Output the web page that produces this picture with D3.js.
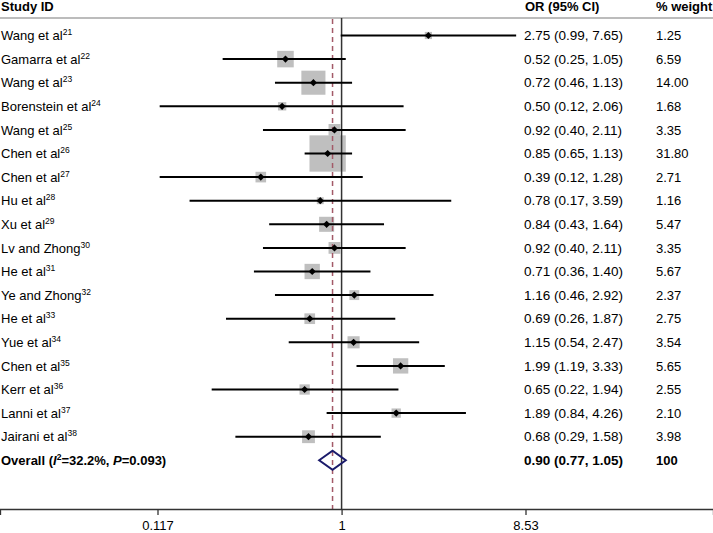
<!DOCTYPE html>
<html><head><meta charset="utf-8">
<script src="https://cdn.jsdelivr.net/npm/d3@7"></script>
<style>
html,body{margin:0;padding:0;background:#fff;}
svg{display:block;font-family:"Liberation Sans",Arial,sans-serif;}
</style></head><body>
<svg id="chart" width="713" height="533"></svg>
<script>
const studies = ["Wang et al","Gamarra et al","Wang et al","Borenstein et al","Wang et al","Chen et al","Chen et al","Hu et al","Xu et al","Lv and Zhong","He et al","Ye and Zhong","He et al","Yue et al","Chen et al","Kerr et al","Lanni et al","Jairani et al"];
const refs = ["21","22","23","24","25","26","27","28","29","30","31","32","33","34","35","36","37","38"];
const orValues = [2.75,0.52,0.72,0.50,0.92,0.85,0.39,0.78,0.84,0.92,0.71,1.16,0.69,1.15,1.99,0.65,1.89,0.68];
const ciLow = [0.99,0.25,0.46,0.12,0.40,0.65,0.12,0.17,0.43,0.40,0.36,0.46,0.26,0.54,1.19,0.22,0.84,0.29];
const ciHigh = [7.65,1.05,1.13,2.06,2.11,1.13,1.28,3.59,1.64,2.11,1.40,2.92,1.87,2.47,3.33,1.94,4.26,1.58];
const weights = [1.25,6.59,14.00,1.68,3.35,31.80,2.71,1.16,5.47,3.35,5.67,2.37,2.75,3.54,5.65,2.55,2.10,3.98];
const overall = {or:0.90, lo:0.77, hi:1.05, weight:"100", label:"0.90 (0.77, 1.05)"};
const tickValues = [0.117, 1, 8.53];
const tickLabels = ["0.117","1","8.53"];

const W = 713, H = 533;
const svg = d3.select("#chart");
const base = d3.scaleLog().domain([0.117, 8.53]).range([157.5, 525.5]);
const x = d3.scaleLog().domain([base.invert(0), base.invert(W)]).range([0, W]);

const rowY0 = 35.5, rowStep = 23.6;
const y = i => rowY0 + i * rowStep;
const headerY = 18, axisY = 509;
const colOR = 524, colW = 656;
const fs = 13, fsOR = 13.5, bl = 4.6;

// header
svg.append("text").attr("x",1).attr("y",11).attr("font-size",fs).attr("font-weight","bold").text("Study ID");
svg.append("text").attr("x",colOR+1).attr("y",11).attr("font-size",fs).attr("font-weight","bold").text("OR (95% CI)");
svg.append("text").attr("x",colW).attr("y",11).attr("font-size",fs).attr("font-weight","bold").text("% weight");
svg.append("line").attr("x1",0).attr("x2",W).attr("y1",headerY).attr("y2",headerY).attr("stroke","#7a7a7a").attr("stroke-width",1.2);

// boxes
const maxW = d3.max(weights);
const side = w => 36.3 * Math.sqrt(w / maxW);
svg.append("g").selectAll("rect").data(weights).join("rect")
  .attr("x",(w,i)=>x(orValues[i]) - side(w)/2)
  .attr("y",(w,i)=>y(i) - side(w)/2)
  .attr("width",w=>side(w)).attr("height",w=>side(w))
  .attr("fill","#bfbfbf");

// reference lines
svg.append("line").attr("x1",x(1)).attr("x2",x(1)).attr("y1",headerY).attr("y2",axisY)
  .attr("stroke","#333").attr("stroke-width",1.5);
svg.append("line").attr("x1",x(overall.or)).attr("x2",x(overall.or)).attr("y1",headerY+1).attr("y2",axisY)
  .attr("stroke","#a35a68").attr("stroke-width",1.5).attr("stroke-dasharray","5,4");

// CI lines
svg.append("g").selectAll("line").data(orValues).join("line")
  .attr("x1",(d,i)=>x(ciLow[i])).attr("x2",(d,i)=>x(ciHigh[i]))
  .attr("y1",(d,i)=>y(i)).attr("y2",(d,i)=>y(i))
  .attr("stroke","#000").attr("stroke-width",2);

// point markers
svg.append("g").selectAll("path").data(orValues).join("path")
  .attr("d",(d,i)=>{const cx=x(d), cy=y(i), r=3.6; return `M${cx-r},${cy}L${cx},${cy-r}L${cx+r},${cy}L${cx},${cy+r}Z`;})
  .attr("fill","#000");

// labels
const lab = svg.append("g").attr("font-size",fs).attr("fill","#000");
studies.forEach((s,i)=>{
  const t = lab.append("text").attr("x",1).attr("y",y(i)+bl);
  t.append("tspan").text(s);
  t.append("tspan").attr("font-size",8.5).attr("dy",-5).text(refs[i]);
  lab.append("text").attr("x",colOR).attr("y",y(i)+bl).attr("font-size",fsOR)
    .text(`${orValues[i].toFixed(2)} (${ciLow[i].toFixed(2)}, ${ciHigh[i].toFixed(2)})`);
  lab.append("text").attr("x",colW).attr("y",y(i)+bl).text(weights[i].toFixed(2));
});

// overall
const oy = y(studies.length);
const ot = lab.append("text").attr("x",1).attr("y",oy+bl).attr("font-weight","bold");
ot.append("tspan").text("Overall (");
ot.append("tspan").attr("font-style","italic").text("I");
ot.append("tspan").attr("font-size",8.5).attr("dy",-5).text("2");
ot.append("tspan").attr("dy",5).text("=32.2%, ");
ot.append("tspan").attr("font-style","italic").text("P");
ot.append("tspan").text("=0.093)");
lab.append("text").attr("x",colOR).attr("y",oy+bl).attr("font-weight","bold").attr("font-size",fsOR).text(overall.label);
lab.append("text").attr("x",colW).attr("y",oy+bl).attr("font-weight","bold").text(overall.weight);

svg.append("path")
  .attr("d",`M${x(overall.lo)},${oy}L${x(overall.or)},${oy-9.5}L${x(overall.hi)},${oy}L${x(overall.or)},${oy+9.5}Z`)
  .attr("fill","none").attr("stroke","#1b1b6b").attr("stroke-width",2);

// axis
const axis = d3.axisBottom(x).tickValues(tickValues).tickFormat((d,i)=>tickLabels[i]).tickSizeOuter(0).tickSize(6).tickPadding(6);
const ag = svg.append("g").attr("transform",`translate(0,${axisY})`).call(axis);
ag.select(".domain").attr("stroke","#333").attr("stroke-width",1.3);
ag.selectAll(".tick line").attr("stroke","#333").attr("stroke-width",1.3);
ag.selectAll(".tick text").attr("font-size",fs).attr("fill","#000").attr("font-family","Liberation Sans, Arial, sans-serif");
</script>
</body></html>
